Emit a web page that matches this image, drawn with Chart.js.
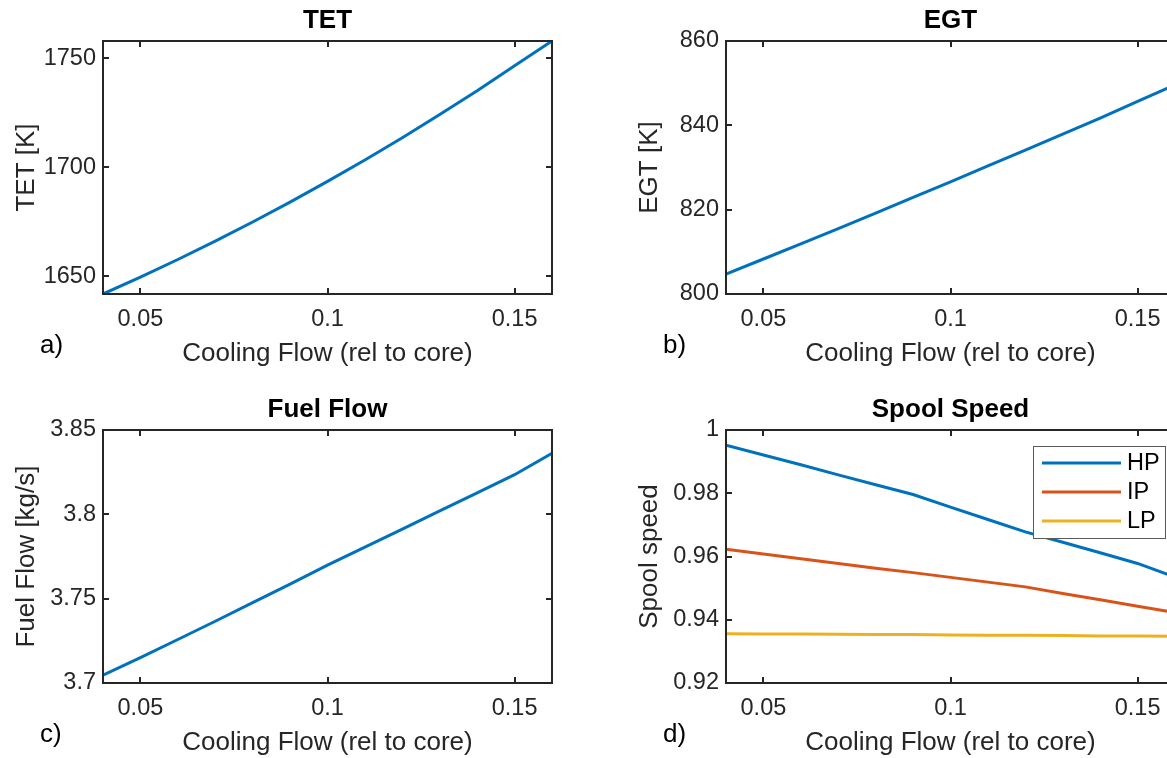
<!DOCTYPE html>
<html>
<head>
<meta charset="utf-8">
<script src="https://cdn.jsdelivr.net/npm/chart.js@4.4.1/dist/chart.umd.min.js"></script>
<style>
  html, body { margin: 0; padding: 0; background: #fff; width: 1167px; height: 758px; overflow: hidden; }
  canvas { position: absolute; }
</style>
</head>
<body>
<canvas id="cTET" width="583" height="389" style="left:0px;top:0px"></canvas>
<canvas id="cEGT" width="583" height="389" style="left:623px;top:0px"></canvas>
<canvas id="cFuel" width="583" height="389" style="left:0px;top:389px"></canvas>
<canvas id="cSpool" width="583" height="389" style="left:623px;top:389px"></canvas>
<script>
// ---------------- data ----------------
const coolingFlow = [0.04, 0.05, 0.06, 0.07, 0.08, 0.09, 0.10, 0.11, 0.12, 0.13, 0.14, 0.15, 0.16];
const tetK        = [1641.9, 1649.6, 1657.7, 1666.1, 1674.9, 1684.0, 1693.5, 1703.3, 1713.5, 1724.1, 1735.0, 1746.5, 1757.8];
const egtK        = [804.7, 808.3, 811.9, 815.5, 819.2, 822.9, 826.6, 830.4, 834.1, 837.9, 841.7, 845.7, 849.6];
const fuelFlow    = [3.7046, 3.7150, 3.7258, 3.7366, 3.7476, 3.7586, 3.7699, 3.7805, 3.7912, 3.8020, 3.8127, 3.8235, 3.8362];
const spoolHP     = [0.9952, 0.9921, 0.9890, 0.9858, 0.9827, 0.9796, 0.9756, 0.9717, 0.9678, 0.9645, 0.9612, 0.9578, 0.9535];
const spoolIP     = [0.9623, 0.9608, 0.9593, 0.9578, 0.9563, 0.9549, 0.9534, 0.9519, 0.9504, 0.9483, 0.9463, 0.9443, 0.9423];
const spoolLP     = [0.9356, 0.9355, 0.9355, 0.9354, 0.9353, 0.9353, 0.9352, 0.9351, 0.9351, 0.9350, 0.9349, 0.9349, 0.9348];
const spoolNames  = ['HP', 'IP', 'LP'];

const xTicks      = [0.05, 0.1, 0.15];
const tetTicks    = [1650, 1700, 1750];
const egtTicks    = [800, 820, 840, 860];
const fuelTicks   = [3.7, 3.75, 3.8, 3.85];
const spoolTicks  = [0.92, 0.94, 0.96, 0.98, 1];

const xLabel = 'Cooling Flow (rel to core)';

// ---------------- styling ----------------
const FONT = "'Liberation Sans', Arial, Helvetica, sans-serif";
const INK = '#262626';
const C_BLUE = '#0072BD', C_ORANGE = '#D95319', C_YELLOW = '#EDB120';
const TICK_PX = 23.5, LABEL_PX = 26;

const matlabAxes = {
  id: 'matlabAxes',
  afterDatasetsDraw(chart, args, opts) {
    const { ctx, chartArea: a, scales } = chart;
    ctx.save();
    // legend (inside, north-east)
    if (opts.legend) {
      const w = 133, h = 93;
      const bx = a.right - 9 - w, by = a.top + 16;
      ctx.fillStyle = '#fff';
      ctx.fillRect(bx, by, w, h);
      ctx.strokeStyle = '#5a5a5a';
      ctx.lineWidth = 1;
      ctx.strokeRect(bx + 0.5, by + 0.5, w - 1, h - 1);
      chart.data.datasets.forEach((ds, i) => {
        const y = by + 17 + i * 29;
        ctx.strokeStyle = ds.borderColor;
        ctx.lineWidth = 3;
        ctx.beginPath();
        ctx.moveTo(bx + 9, y);
        ctx.lineTo(bx + 88, y);
        ctx.stroke();
        ctx.fillStyle = '#000';
        ctx.font = `${TICK_PX}px ${FONT}`;
        ctx.textAlign = 'left';
        ctx.textBaseline = 'middle';
        ctx.fillText(ds.label, bx + 94, y + 1);
      });
    }
    // box
    ctx.strokeStyle = INK;
    ctx.lineWidth = 2;
    ctx.strokeRect(a.left, a.top, a.right - a.left, a.bottom - a.top);
    // inward ticks on all four sides
    const L = 6;
    ctx.beginPath();
    scales.x.ticks.forEach(t => {
      const px = Math.round(scales.x.getPixelForValue(t.value));
      ctx.moveTo(px, a.bottom); ctx.lineTo(px, a.bottom - L);
      ctx.moveTo(px, a.top); ctx.lineTo(px, a.top + L);
    });
    scales.y.ticks.forEach(t => {
      const py = Math.round(scales.y.getPixelForValue(t.value));
      ctx.moveTo(a.left, py); ctx.lineTo(a.left + L, py);
      ctx.moveTo(a.right, py); ctx.lineTo(a.right - L, py);
    });
    ctx.stroke();
    // panel letter
    ctx.fillStyle = '#000';
    ctx.font = `${LABEL_PX}px ${FONT}`;
    ctx.textAlign = 'left';
    ctx.textBaseline = 'middle';
    ctx.fillText(opts.letter, a.left - 63, a.bottom + 52);
    ctx.restore();
  }
};

function pts(vals) { return coolingFlow.map((x, i) => ({ x: x, y: vals[i] })); }

function makeChart(id, title, yTitle, yMin, yMax, yTickVals, datasets, letter, legend) {
  return new Chart(document.getElementById(id), {
    type: 'line',
    data: { datasets: datasets },
    options: {
      responsive: false,
      animation: false,
      events: [],
      layout: { padding: { top: 0, left: 0, right: 31, bottom: 0 } },
      elements: { point: { radius: 0 }, line: { borderWidth: 3, tension: 0 } },
      plugins: {
        legend: { display: false },
        tooltip: { enabled: false },
        title: {
          display: true, text: title, fullSize: false, color: '#000',
          font: { family: FONT, size: LABEL_PX, weight: 'bold', lineHeight: 1.2 },
          padding: { top: 4.9, bottom: 4.9 }
        },
        matlabAxes: { letter: letter, legend: legend }
      },
      scales: {
        x: {
          type: 'linear', min: 0.04, max: 0.16,
          afterBuildTicks: s => { s.ticks = xTicks.map(v => ({ value: v })); },
          afterFit: s => { s.height = 95; },
          grid: { display: false, drawTicks: false },
          border: { display: false },
          ticks: { padding: 11.5, color: INK, font: { family: FONT, size: TICK_PX }, maxRotation: 0, autoSkip: false, callback: v => String(v) },
          title: { display: true, text: xLabel, color: INK, font: { family: FONT, size: LABEL_PX, lineHeight: 1.2 }, padding: { top: 0, bottom: 19.4 } }
        },
        y: {
          type: 'linear', min: yMin, max: yMax,
          afterBuildTicks: s => { s.ticks = yTickVals.map(v => ({ value: v })); },
          afterFit: s => { s.width = 103; },
          grid: { display: false, drawTicks: false },
          border: { display: false },
          ticks: { padding: 7, color: INK, font: { family: FONT, size: TICK_PX }, autoSkip: false, callback: v => String(v) },
          title: { display: true, text: yTitle, color: INK, font: { family: FONT, size: LABEL_PX, lineHeight: 1.2 }, padding: { top: 11.4, bottom: 0 } }
        }
      }
    },
    plugins: [matlabAxes]
  });
}

makeChart('cTET', 'TET', 'TET [K]', tetK[0], tetK[tetK.length - 1], tetTicks,
  [{ label: 'TET', data: pts(tetK), borderColor: C_BLUE }], 'a)', false);

makeChart('cEGT', 'EGT', 'EGT [K]', 800, 860, egtTicks,
  [{ label: 'EGT', data: pts(egtK), borderColor: C_BLUE }], 'b)', false);

makeChart('cFuel', 'Fuel Flow', 'Fuel Flow [kg/s]', 3.7, 3.85, fuelTicks,
  [{ label: 'Fuel Flow', data: pts(fuelFlow), borderColor: C_BLUE }], 'c)', false);

makeChart('cSpool', 'Spool Speed', 'Spool speed', 0.92, 1, spoolTicks,
  [
    { label: spoolNames[0], data: pts(spoolHP), borderColor: C_BLUE },
    { label: spoolNames[1], data: pts(spoolIP), borderColor: C_ORANGE },
    { label: spoolNames[2], data: pts(spoolLP), borderColor: C_YELLOW }
  ], 'd)', true);
</script>
</body>
</html>
